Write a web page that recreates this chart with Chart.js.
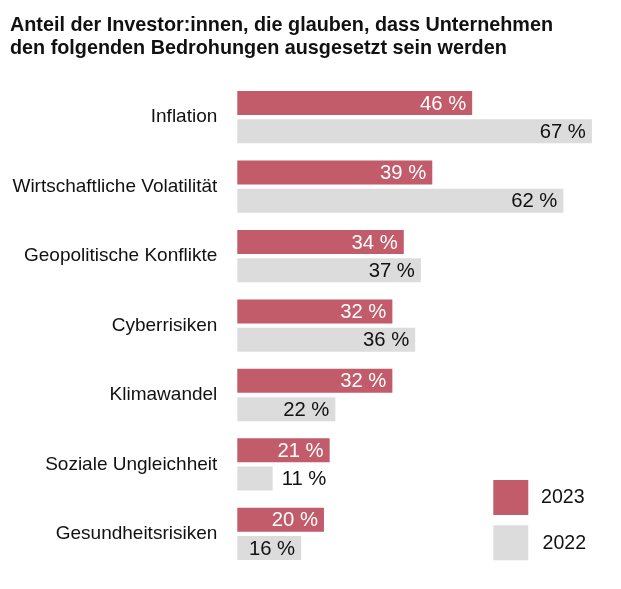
<!DOCTYPE html>
<html>
<head>
<meta charset="utf-8">
<script src="https://cdn.jsdelivr.net/npm/chart.js@4.4.1/dist/chart.umd.min.js"></script>
<style>
  html, body { margin: 0; padding: 0; background: #fff; }
  #wrap { width: 621px; height: 589px; position: relative; }
</style>
</head>
<body>
<div id="wrap"><canvas id="threatChart" width="621" height="589"></canvas></div>
<script>
// Daten aus der Grafik
const categories = [
  'Inflation',
  'Wirtschaftliche Volatilität',
  'Geopolitische Konflikte',
  'Cyberrisiken',
  'Klimawandel',
  'Soziale Ungleichheit',
  'Gesundheitsrisiken'
];
const seriesNames = ['2023', '2022'];
const values2023 = [46, 39, 34, 32, 32, 21, 20];
const values2022 = [67, 62, 37, 36, 22, 11, 16];
const titleLines = [
  'Anteil der Investor:innen, die glauben, dass Unternehmen',
  'den folgenden Bedrohungen ausgesetzt sein werden'
];

const FONT = '"Liberation Sans", Arial, Helvetica, sans-serif';
const colors = ['#c25b6a', '#dcdcdc'];
const labelColors = ['#ffffff', '#111111'];

// Wertbeschriftungen: innen rechtsbündig wenn Platz, sonst außen
const valueLabels = {
  id: 'valueLabels',
  afterDatasetsDraw(chart) {
    const ctx = chart.ctx;
    const left = chart.chartArea.left;
    ctx.save();
    ctx.font = '20.3px ' + FONT;
    ctx.textBaseline = 'middle';
    chart.data.datasets.forEach((ds, di) => {
      const meta = chart.getDatasetMeta(di);
      meta.data.forEach((bar, i) => {
        const text = ds.data[i] + ' %';
        const w = ctx.measureText(text).width;
        const len = bar.x - Math.max(bar.base, left);
        if (w + 14 < len) {
          ctx.textAlign = 'right';
          ctx.fillStyle = labelColors[di];
          ctx.fillText(text, bar.x - 6, bar.y + 1);
        } else {
          ctx.textAlign = 'left';
          ctx.fillStyle = '#111111';
          ctx.fillText(text, bar.x + 9, bar.y + 1);
        }
      });
    });
    ctx.restore();
  }
};

// Legende unten rechts mit großen Quadraten
const squareLegend = {
  id: 'squareLegend',
  afterDraw(chart) {
    const ctx = chart.ctx;
    ctx.save();
    ctx.font = '19.6px ' + FONT;
    ctx.textBaseline = 'middle';
    ctx.textAlign = 'left';
    chart.data.datasets.forEach((ds, di) => {
      const top = 480 + di * 45.3;
      ctx.fillStyle = ds.backgroundColor;
      ctx.fillRect(493.3, top, 35, 35);
      ctx.fillStyle = '#111111';
      ctx.fillText(ds.label, 541 + di * 1.5, top + 18);
    });
    ctx.restore();
  }
};

const ctx = document.getElementById('threatChart').getContext('2d');
new Chart(ctx, {
  type: 'bar',
  data: {
    labels: categories,
    datasets: [
      {
        label: seriesNames[0],
        data: values2023,
        backgroundColor: colors[0],
        categoryPercentage: 0.815,
        barPercentage: 0.848
      },
      {
        label: seriesNames[1],
        data: values2022,
        backgroundColor: colors[1],
        categoryPercentage: 0.815,
        barPercentage: 0.848
      }
    ]
  },
  options: {
    indexAxis: 'y',
    responsive: false,
    animation: false,
    layout: {
      padding: { left: 10, right: 12, top: 0, bottom: 20.4 }
    },
    scales: {
      x: {
        display: false,
        min: 4.8,
        max: 70
      },
      y: {
        grid: { display: false, drawTicks: false },
        border: { display: false },
        afterFit(scale) {
          scale.width = 227.3;
          scale.paddingTop = 0;
          scale.paddingBottom = 0;
        },
        ticks: {
          padding: 20,
          color: '#111111',
          font: { family: FONT, size: 19 }
        }
      }
    },
    plugins: {
      legend: { display: false },
      tooltip: { enabled: false },
      title: {
        display: true,
        text: titleLines,
        align: 'start',
        color: '#111111',
        font: { family: FONT, size: 19.8, weight: 'bold', lineHeight: 23 / 19.8 },
        padding: { top: 14, bottom: 22.5 }
      }
    }
  },
  plugins: [valueLabels, squareLegend]
});
</script>
</body>
</html>
